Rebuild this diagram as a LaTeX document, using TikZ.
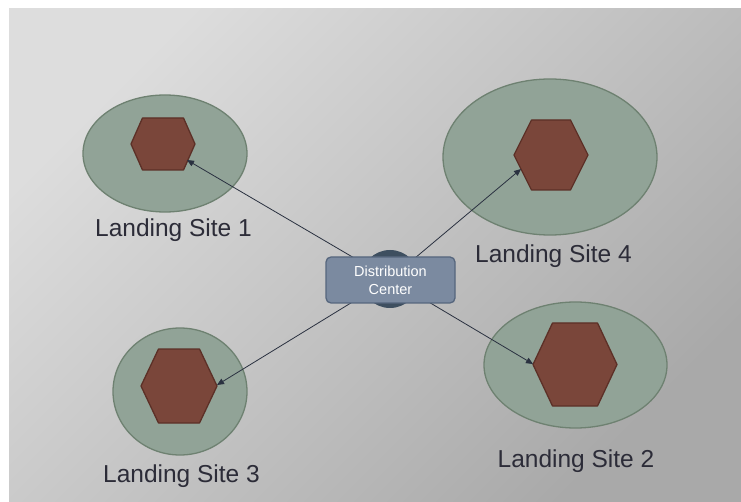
\documentclass[tikz,border=0pt]{standalone}
\usepackage{fontspec}
\setmainfont{Liberation Sans}
\usetikzlibrary{arrows.meta}
\definecolor{bgl}{HTML}{DDDDDD}
\definecolor{bgm}{HTML}{CACACA}
\definecolor{bgd}{HTML}{A9A9A9}
\definecolor{zonefill}{HTML}{91A397}
\definecolor{zoneline}{HTML}{6E8171}
\definecolor{hexfill}{HTML}{7A463A}
\definecolor{hexline}{HTML}{5C3027}
\definecolor{dcfill}{HTML}{7B8AA0}
\definecolor{dcline}{HTML}{56667D}
\definecolor{dcback}{HTML}{3E4F60}
\definecolor{labelc}{HTML}{2C2C38}
\definecolor{arrowc}{HTML}{2A3140}
\begin{document}
\begin{tikzpicture}[x=1pt,y=-1pt,
  zone/.style={fill=zonefill,draw=zoneline,line width=1.3pt},
  hexa/.style={fill=hexfill,draw=hexline,line width=1.3pt,line join=round},
  sitelabel/.style={text=labelc,font=\fontsize{24.5}{29}\selectfont,anchor=base,inner sep=0pt},
  link/.style={draw=arrowc,line width=0.8pt,-{Triangle[length=7pt,width=6pt]}},
  dcbox/.style={fill=dcfill,draw=dcline,line width=1.3pt,rounded corners=5pt,
    minimum width=129pt,minimum height=46pt,align=center,text=white,
    font=\fontsize{14.5}{18}\selectfont,inner sep=0pt}
]
\useasboundingbox (0,0) rectangle (741,502);
\fill[white] (0,0) rectangle (741,502);
\shade[shading=axis,top color=bgl,middle color=bgm,bottom color=bgd,shading angle=45] (9,9) rectangle (741,502);

% zones
\draw[zone] (165,153.5) ellipse [x radius=82, y radius=58.5];
\draw[zone] (550,157) ellipse [x radius=107, y radius=78];
\draw[zone] (575.5,365) ellipse [x radius=91.5, y radius=63];
\draw[zone] (180,391.5) ellipse [x radius=67, y radius=63.5];

% hexagons
\draw[hexa] (131,144) -- (142.5,118) -- (183.5,118) -- (195,144) -- (183.5,170) -- (142.5,170) -- cycle;
\draw[hexa] (514,155) -- (531.5,120) -- (570.5,120) -- (588,155) -- (570.5,190) -- (531.5,190) -- cycle;
\draw[hexa] (533,364.5) -- (552.5,323) -- (597.5,323) -- (617,364.5) -- (597.5,406) -- (552.5,406) -- cycle;
\draw[hexa] (141,386) -- (158.5,349) -- (199.5,349) -- (217,386) -- (199.5,423) -- (158.5,423) -- cycle;

% arrow targets
\coordinate (t1) at (187,160);
\coordinate (t4) at (521,169);
\coordinate (t2) at (533,364);
\coordinate (t3) at (217,385);
\coordinate (hub) at (390,279);

\draw[link] (hub) -- (t1);
\draw[link] (hub) -- (t4);
\draw[link] (hub) -- (t2);
\draw[link] (hub) -- (t3);

% distribution center
\fill[dcback] (hub) circle [radius=29];
\node[dcbox] (dc) at (390.5,280) {Distribution\\Center};

% labels
\node[sitelabel] (l1) at (173.5,237) {Landing Site 1};
\node[sitelabel] (l4) at (553.5,263) {Landing Site 4};
\node[sitelabel] (l2) at (576,467) {Landing Site 2};
\node[sitelabel] (l3) at (181.5,482) {Landing Site 3};
\end{tikzpicture}
\end{document}
